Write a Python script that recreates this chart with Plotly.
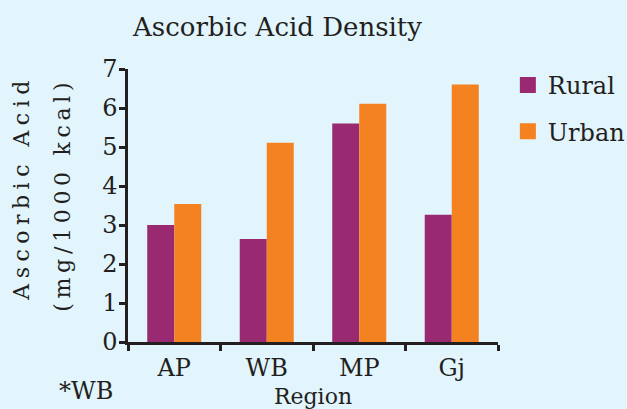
import plotly.graph_objects as go

regions = ["AP", "WB", "MP", "Gj"]
rural = [3.0, 2.64, 5.6, 3.26]
urban = [3.54, 5.11, 6.11, 6.6]
y_ticks = [0, 1, 2, 3, 4, 5, 6, 7]

RURAL_C = "#992a72"
URBAN_C = "#f48221"
BG = "#e2f4fc"
FONT = "DejaVu Serif"
TXT = "#231f20"

fig = go.Figure()
fig.add_trace(go.Bar(x=regions, y=rural, name="Rural", marker_color=RURAL_C,
                     marker_line_width=0, showlegend=False))
fig.add_trace(go.Bar(x=regions, y=urban, name="Urban", marker_color=URBAN_C,
                     marker_line_width=0, showlegend=False))
# legend entries
fig.add_trace(go.Scatter(x=[None], y=[None], mode="markers", name="Rural",
                         marker=dict(symbol="square", size=19, color=RURAL_C),
                         legendgroup="r"))
fig.add_trace(go.Scatter(x=[None], y=[None], mode="markers", name="Urban",
                         marker=dict(symbol="square", size=19, color=URBAN_C),
                         legendgroup="u"))

fig.add_annotation(text='<span style="letter-spacing:5.5px">Ascorbic Acid</span>',
                   textangle=-90, xref="paper", yref="paper", x=-0.2865, y=0.565,
                   xanchor="center", yanchor="middle", showarrow=False,
                   font=dict(family=FONT, size=22, color=TXT))
fig.add_annotation(text='<span style="letter-spacing:4.7px">(mg/1000 kcal)</span>',
                   textangle=-90, xref="paper", yref="paper", x=-0.178, y=0.54,
                   xanchor="center", yanchor="middle", showarrow=False,
                   font=dict(family=FONT, size=22, color=TXT))
fig.add_annotation(text="*WB", xref="paper", yref="paper", x=-0.1135, y=-0.18,
                   xanchor="center", yanchor="middle", showarrow=False,
                   font=dict(family=FONT, size=24, color=TXT))

fig.update_layout(
    width=627, height=409,
    margin=dict(l=128, r=129, t=69, b=67, pad=0, autoexpand=False),
    paper_bgcolor=BG, plot_bgcolor=BG,
    barmode="group", bargap=0.416, bargroupgap=0,
    font=dict(family=FONT, size=24, color=TXT),
    title=dict(text="Ascorbic Acid Density", x=0.4426, xref="container", xanchor="center",
               y=0.935, yref="container", yanchor="middle",
               font=dict(family=FONT, size=26, color=TXT)),
    legend=dict(x=0.81, xanchor="left", y=0.846, yanchor="top",
                xref="container", yref="container",
                bgcolor="rgba(0,0,0,0)", font=dict(family=FONT, size=24, color=TXT),
                tracegroupgap=12, traceorder="grouped", itemsizing="trace"),
    xaxis=dict(showline=True, linecolor="#231f20", linewidth=2.5,
               ticks="outside", tickson="boundaries", ticklen=6, tickwidth=2.5,
               tickcolor="#231f20", showgrid=False, zeroline=False,
               ticklabelstandoff=2,
               tickfont=dict(family=FONT, size=24, color=TXT),
               title=dict(text="Region", standoff=12,
                          font=dict(family=FONT, size=22, color=TXT))),
    yaxis=dict(range=[0, 7], tickvals=y_ticks, showline=True, linecolor="#231f20",
               linewidth=2.5, ticks="outside", ticklen=6, tickwidth=2.5,
               tickcolor="#231f20", showgrid=False, zeroline=False,
               ticklabelstandoff=-3,
               tickfont=dict(family=FONT, size=24, color=TXT)),
)

fig.write_html("out.html", config={"displayModeBar": False},
               post_script="document.body.style.margin='0';")
